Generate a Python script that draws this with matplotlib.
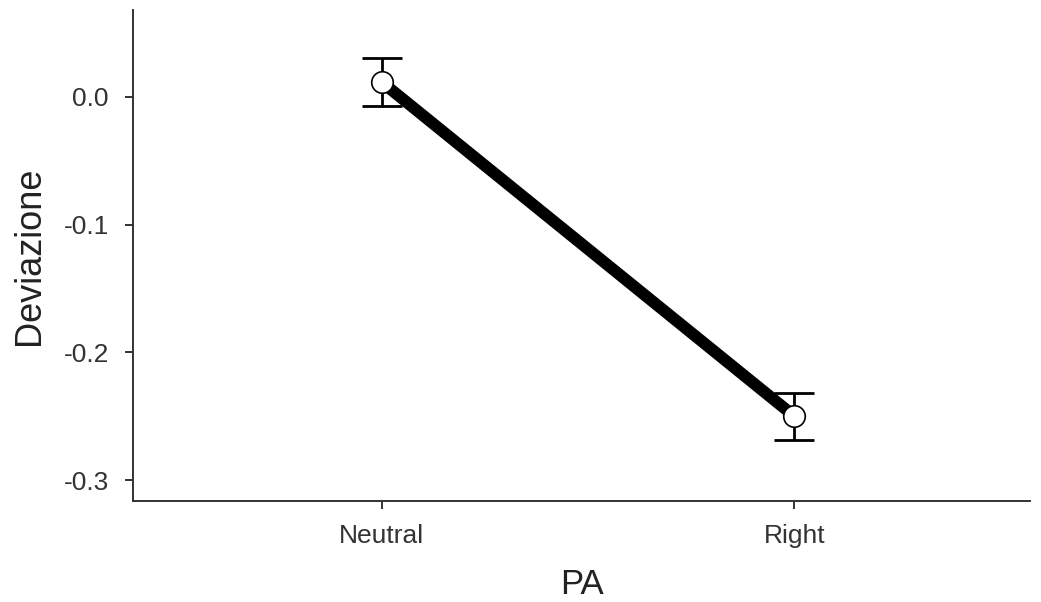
import matplotlib
matplotlib.use("Agg")
import matplotlib.pyplot as plt

# dati
categorie = ["Neutral", "Right"]
medie = [0.0117, -0.2499]
errori = [0.0185, 0.0185]
tick_y = [0.0, -0.1, -0.2, -0.3]
etichette_y = ["0.0", "-0.1", "-0.2", "-0.3"]

plt.rcParams["font.family"] = ["Liberation Sans", "DejaVu Sans"]

fig = plt.figure(figsize=(10.41, 6.02), dpi=100)
ax = fig.add_axes([0.128, 0.167, 0.8614, 0.8164])

x = list(range(1, len(categorie) + 1))

# linea spessa
ax.plot(x, medie, color="black", linewidth=8.5, solid_capstyle="butt", zorder=2)

# barre d'errore
ax.errorbar(x, medie, yerr=errori, fmt="none", ecolor="black",
            elinewidth=2.0, capsize=14.5, capthick=2.0, zorder=3)

# punti
ax.plot(x, medie, "o", markersize=15.5, markerfacecolor="white",
        markeredgecolor="black", markeredgewidth=1.2, zorder=4)

ax.set_xlim(0.398, 2.571)
ax.set_ylim(-0.3166, 0.068)
ax.set_xticks(x)
ax.set_xticklabels(categorie)
ax.set_yticks(tick_y)
ax.set_yticklabels(etichette_y)

for lato in ["top", "right"]:
    ax.spines[lato].set_visible(False)
for lato in ["left", "bottom"]:
    ax.spines[lato].set_color("#333333")
    ax.spines[lato].set_linewidth(1.4)

ax.tick_params(axis="both", colors="#333333", width=1.4, length=5.5,
               labelsize=19, labelcolor="#333333")
ax.tick_params(axis="x", pad=11)
ax.tick_params(axis="y", pad=12)

ax.set_xlabel("PA", fontsize=25, color="#222222", labelpad=14)
ax.set_ylabel("Deviazione", fontsize=26, color="#222222", labelpad=12)

fig.savefig("out.png", dpi=100)
